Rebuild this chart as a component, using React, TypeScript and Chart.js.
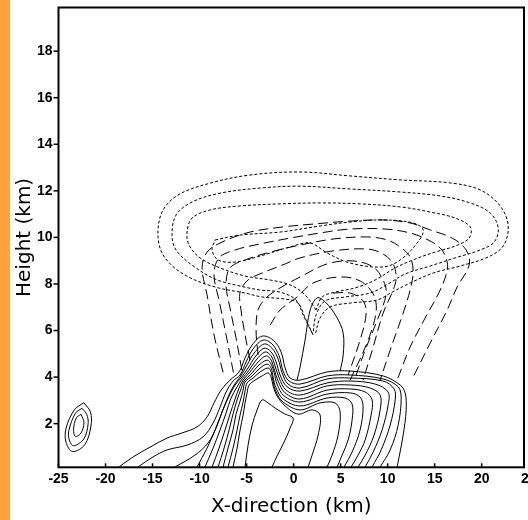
import React, { useEffect, useRef } from "react";
import { Chart, registerables } from "chart.js";

Chart.register(...registerables);

// axis ticks (km)
const X_TICKS = [-25, -20, -15, -10, -5, 0, 5, 10, 15, 20, 25];
const Y_TICKS = [2, 4, 6, 8, 10, 12, 14, 16, 18];

// ---- solid contours [x km, height km] ----
const ELL_OUTER = [[-22.3,2.9],[-21.6,2.5],[-21.55,1.9],[-22.2,1.1],[-23.5,0.8],[-24.2,1.2],[-24.2,1.8],[-23.3,2.6],[-22.3,2.9]];
const ELL_MID = [[-22.5,2.66],[-22.0,2.4],[-21.85,2.0],[-22.3,1.35],[-23.4,1.05],[-23.85,1.3],[-23.9,1.7],[-23.2,2.45],[-22.5,2.66]];
const ELL_INNER = [[-22.6,2.4],[-22.3,2.05],[-22.6,1.6],[-23.2,1.45],[-23.4,1.75],[-23.1,2.25],[-22.6,2.4]];

const S0 = [[-18.56,0.14],[-17.07,0.57],[-15.27,0.99],[-13.46,1.38],[-11.86,1.6],[-10.27,1.86],[-9.2,2.29],[-8.46,2.89],[-7.71,3.44],[-6.76,3.87],[-5.8,4.22],[-5.16,4.82],[-4.41,5.38],[-3.35,5.76],[-2.18,5.59],[-1.33,5.08],[-0.9,4.39],[-0.37,3.96],[0.69,3.87],[3.56,4.22],[6.01,4.26],[9.52,4.05],[11.33,3.66],[11.86,3.32],[11.97,2.59],[11.65,1.51],[11.01,0.14]];
const S1 = [[-16.54,0.14],[-14.95,0.57],[-13.46,0.87],[-11.33,1.08],[-9.63,1.43],[-8.56,2.03],[-7.82,2.71],[-7.18,3.36],[-6.44,3.83],[-5.69,4.09],[-5.05,4.65],[-4.31,5.21],[-3.24,5.59],[-2.29,5.42],[-1.54,4.91],[-1.12,4.26],[-0.48,3.83],[0.69,3.7],[3.56,4.05],[6.01,4.09],[9.52,3.92],[11.12,3.58],[11.44,3.1],[11.12,1.94],[10.27,0.87],[9.2,0.14]];
const S2 = [[-12.61,0.14],[-10.48,0.65],[-9.1,1.17],[-8.24,1.81],[-7.61,2.5],[-6.97,3.14],[-6.33,3.66],[-5.69,4.0],[-4.95,4.52],[-4.2,5.03],[-3.14,5.42],[-2.29,5.24],[-1.65,4.78],[-1.22,4.18],[-0.59,3.7],[0.69,3.53],[3.56,3.92],[6.01,3.96],[9.52,3.83],[10.69,3.49],[10.8,3.02],[10.27,1.94],[9.31,0.87],[8.35,0.14]];
const S3 = [[-10.27,0.14],[-9.2,0.95],[-8.35,1.73],[-7.61,2.5],[-6.86,3.19],[-6.22,3.66],[-5.59,3.96],[-4.84,4.39],[-4.1,4.86],[-3.14,5.24],[-2.39,5.08],[-1.86,4.65],[-1.44,4.09],[-0.69,3.58],[0.69,3.4],[3.56,3.75],[6.01,3.83],[8.67,3.7],[10.05,3.36],[10.05,2.8],[9.41,1.73],[8.46,0.78],[7.61,0.14]];
const S4 = [[-9.42,0.14],[-8.56,0.95],[-7.82,1.73],[-7.18,2.46],[-6.65,3.1],[-6.01,3.58],[-5.48,3.92],[-4.73,4.3],[-3.99,4.73],[-3.03,5.08],[-2.39,4.91],[-1.97,4.48],[-1.54,3.96],[-0.8,3.44],[0.69,3.23],[3.56,3.62],[6.01,3.66],[8.14,3.53],[9.2,3.23],[9.2,2.59],[8.56,1.51],[7.61,0.65],[6.86,0.14]];
const S5 = [[-8.67,0.14],[-7.93,0.95],[-7.29,1.73],[-6.76,2.41],[-6.22,3.06],[-5.8,3.53],[-5.37,3.87],[-4.63,4.22],[-3.88,4.6],[-2.93,4.91],[-2.39,4.73],[-2.07,4.35],[-1.65,3.83],[-0.9,3.32],[0.69,3.06],[3.56,3.44],[6.01,3.49],[7.61,3.36],[8.35,3.02],[8.24,2.37],[7.61,1.3],[6.86,0.65],[6.12,0.14]];
const S6 = [[-8.03,0.14],[-7.39,0.95],[-6.86,1.73],[-6.44,2.41],[-6.01,3.02],[-5.59,3.49],[-5.27,3.83],[-4.52,4.13],[-3.78,4.48],[-2.82,4.73],[-2.39,4.56],[-2.07,4.18],[-1.76,3.7],[-1.01,3.19],[0.69,2.93],[3.56,3.27],[6.01,3.32],[7.07,3.14],[7.39,2.71],[7.07,1.73],[6.22,0.78],[5.37,0.14]];
const S7 = [[-7.5,0.14],[-6.97,0.95],[-6.44,1.73],[-6.12,2.41],[-5.69,2.97],[-5.37,3.44],[-5.16,3.79],[-4.41,4.05],[-3.67,4.35],[-2.82,4.56],[-2.39,4.39],[-2.18,4.0],[-1.86,3.53],[-1.12,3.06],[0.69,2.76],[3.56,3.1],[5.48,3.1],[6.22,2.84],[6.22,2.16],[5.8,1.3],[5.16,0.65],[4.63,0.14]];
const S8 = [[-6.97,0.14],[-6.44,0.95],[-6.01,1.73],[-5.69,2.37],[-5.37,2.93],[-5.16,3.4],[-4.95,3.75],[-4.31,3.96],[-3.56,4.22],[-2.71,4.39],[-2.39,4.22],[-2.18,3.83],[-1.86,3.36],[-1.12,2.93],[0.69,2.59],[2.82,2.89],[4.41,2.89],[4.95,2.5],[4.73,1.51],[4.1,0.65],[3.56,0.14]];
const S9 = [[-6.44,0.14],[-6.01,0.95],[-5.69,1.73],[-5.37,2.37],[-5.16,2.89],[-4.95,3.32],[-4.73,3.66],[-4.1,3.87],[-3.35,4.05],[-2.71,4.18],[-2.39,4.0],[-2.18,3.62],[-1.76,3.19],[-0.9,2.76],[0.48,2.41],[1.97,2.59],[2.82,2.37],[2.61,1.51],[1.97,0.65],[1.54,0.14]];
const S10 = [[-5.16,0.14],[-4.84,1.08],[-4.41,1.94],[-3.88,2.59],[-3.35,3.02],[-2.71,2.89],[-1.97,2.67],[-0.9,2.41],[-0.05,2.24],[-0.37,1.81],[-1.01,1.21],[-1.76,0.61],[-2.29,0.14]];
const ARCH = [[0.37,3.87],[0.69,4.43],[1.22,5.59],[1.76,6.88],[2.5,7.4],[3.35,7.23],[4.52,6.62],[5.27,5.89],[5.27,4.95],[4.95,4.26]];

// ---- long-dashed contours ----
const L1 = [[-7.5,4.2],[-8.46,5.81],[-9.2,7.53],[-9.73,8.69],[-9.2,9.37],[-7.61,9.8],[-4.63,10.23],[-1.12,10.45],[2.29,10.58],[6.01,10.7],[9.52,10.75],[12.39,10.62],[14.52,10.32],[16.86,9.97],[18.35,9.46],[18.67,8.81],[17.39,7.87],[16.33,6.88],[14.52,5.46],[12.71,4.0]];
const L2 = [[-6.4,4.2],[-7.18,5.81],[-7.93,7.31],[-8.46,8.39],[-7.93,9.12],[-6.22,9.46],[-3.56,9.72],[-0.37,9.97],[2.82,10.19],[6.01,10.36],[9.73,10.36],[12.39,10.19],[14.31,9.89],[15.59,9.54],[16.22,9.12],[16.33,8.6],[15.59,7.74],[13.99,6.54],[12.39,5.29],[11.01,3.87]];
const L3 = [[-5.5,4.3],[-6.12,5.68],[-6.76,6.97],[-7.18,7.96],[-6.76,8.69],[-5.16,9.03],[-2.5,9.37],[0.69,9.67],[4.2,9.93],[7.82,10.02],[9.95,9.89],[11.33,9.59],[12.39,9.16],[12.71,8.52],[12.39,7.74],[11.65,6.75],[10.27,5.16],[9.2,3.87]];
const L4 = [[-4.63,4.73],[-5.16,5.81],[-5.59,6.88],[-5.69,7.65],[-4.84,8.17],[-3.03,8.52],[-0.9,8.86],[0.69,9.12],[4.2,9.42],[7.82,9.5],[9.52,9.29],[10.59,8.86],[10.9,8.26],[10.59,7.74],[9.52,6.75],[8.46,5.29],[7.39,3.87]];
const L5 = [[-3.78,4.95],[-3.99,6.02],[-3.78,6.88],[-2.93,7.4],[-1.44,7.83],[0.69,8.3],[3.56,8.86],[6.33,8.99],[8.46,8.73],[9.52,8.17],[9.84,7.57],[8.99,6.54],[7.61,5.16],[6.54,3.96]];
const L6 = [[-2.5,6.23],[-1.44,6.88],[0.37,7.44],[2.07,8.04],[4.95,8.3],[7.07,8.13],[8.46,7.57],[8.78,6.84],[7.93,5.59],[6.01,3.87]];
const L7 = [[4.2,7.61],[6.01,7.61],[7.39,7.27],[7.71,6.71],[7.07,5.59],[5.8,4.09]];

// ---- dotted contours (anvil) ----
const P1 = [[2.07,5.81],[1.22,6.54],[0.48,7.18],[-0.9,7.35],[-3.35,7.44],[-5.16,7.61],[-8.35,7.87],[-11.54,8.38],[-13.67,9.12],[-14.41,9.97],[-13.99,11.09],[-12.29,11.82],[-8.88,12.33],[-4.63,12.68],[0.69,12.81],[6.01,12.64],[11.33,12.47],[16.65,12.34],[19.84,12.04],[21.97,11.35],[22.82,10.49],[22.29,9.63],[20.69,9.16],[17.71,8.77],[14.84,8.47],[12.39,8.04],[10.48,7.65],[8.88,7.31],[6.01,7.18],[3.88,7.01],[2.82,6.54],[2.29,5.81]];
const P2 = [[1.97,5.89],[1.01,6.67],[0.27,7.31],[-1.44,7.65],[-3.56,7.74],[-5.69,7.91],[-8.35,8.21],[-10.8,8.81],[-12.5,9.46],[-12.93,10.1],[-12.5,10.96],[-10.8,11.52],[-7.82,11.9],[-3.56,12.12],[0.69,12.2],[6.01,12.08],[11.33,11.95],[15.59,11.78],[18.78,11.48],[20.9,11.05],[21.76,10.41],[21.33,9.8],[19.84,9.46],[17.18,9.12],[14.52,8.77],[11.86,8.43],[10.05,8.0],[8.14,7.61],[5.48,7.44],[3.35,7.27],[2.39,6.67],[2.07,5.89]];
const P3 = [[2.39,6.88],[1.22,7.53],[-0.37,7.96],[-2.5,8.17],[-5.16,8.34],[-7.82,8.69],[-9.95,9.12],[-11.12,9.67],[-11.33,10.23],[-10.8,10.83],[-8.88,11.18],[-5.69,11.35],[-1.44,11.44],[2.82,11.48],[7.07,11.44],[11.33,11.31],[14.52,11.09],[17.18,10.83],[18.78,10.45],[18.67,9.97],[17.18,9.63],[15.05,9.37],[12.93,9.07],[10.8,8.69],[8.67,8.17],[6.54,7.83],[4.41,7.65],[3.03,7.44],[2.39,6.88]];
const P4 = [[-8.35,9.89],[-5.69,10.1],[-1.44,10.23],[2.82,10.49],[6.01,10.66],[9.52,10.75],[12.71,10.62],[13.78,10.32],[13.14,9.76],[11.33,9.03],[9.52,8.73],[6.01,8.9],[3.56,9.33],[1.76,9.76],[-0.37,9.59],[-3.56,9.2],[-6.22,8.94],[-8.03,9.03],[-8.67,9.46],[-8.35,9.89]];

const SOLID = [ELL_OUTER, ELL_MID, ELL_INNER, S0, S1, S2, S3, S4, S5, S6, S7, S8, S9, S10, ARCH];
const LONG_DASH = [L1, L2, L3, L4, L5, L6, L7];
const DOTTED = [P1, P2, P3, P4];

const mk = (pts: number[][], dash: number[]) => ({
  data: pts.map(([x, y]) => ({ x, y })),
  showLine: true,
  borderColor: "#000",
  borderWidth: 1,
  borderDash: dash,
  pointRadius: 0,
  pointHoverRadius: 0,
  tension: 0.35,
  fill: false,
});

const framePlugin = {
  id: "frame",
  afterDraw(chart: any) {
    const { ctx, chartArea: a, scales } = chart;
    ctx.save();
    ctx.strokeStyle = "#000";
    ctx.lineWidth = 2;
    ctx.strokeRect(a.left, a.top, a.right - a.left, a.bottom - a.top);
    ctx.lineWidth = 1.5;
    for (const v of Y_TICKS) {
      const y = scales.y.getPixelForValue(v);
      ctx.beginPath();
      ctx.moveTo(a.left - 5, y);
      ctx.lineTo(a.left, y);
      ctx.stroke();
    }
    for (const v of X_TICKS) {
      const x = scales.x.getPixelForValue(v);
      if (x > a.right) continue;
      ctx.beginPath();
      ctx.moveTo(x, a.bottom);
      ctx.lineTo(x, a.bottom - 4);
      ctx.stroke();
    }
    ctx.restore();
  },
};

export default function App() {
  const ref = useRef<HTMLCanvasElement>(null);
  useEffect(() => {
    const canvas = ref.current!;
    const tickFont = { family: "'Liberation Sans Narrow', 'Liberation Sans', Arial, sans-serif", size: 14, weight: "bold" as const };
    const titleFont = { family: "'DejaVu Sans', sans-serif", size: 20, weight: "normal" as const };
    const datasets = [
      ...SOLID.map((p) => mk(p, [])),
      ...LONG_DASH.map((p) => mk(p, [10, 5])),
      ...DOTTED.map((p) => mk(p, [3, 2])),
    ];
    const chart = new Chart(canvas, {
      type: "scatter",
      data: { datasets },
      options: {
        animation: false,
        responsive: false,
        maintainAspectRatio: false,
        events: [],
        layout: { padding: { top: 7.5, right: 4, bottom: 0, left: 0 } },
        plugins: { legend: { display: false }, tooltip: { enabled: false } },
        scales: {
          x: {
            type: "linear",
            min: -25,
            max: 24.5,
            afterBuildTicks: (s: any) => {
              s.ticks = X_TICKS.map((value) => ({ value }));
            },
            afterFit: (s: any) => {
              s.height = 52.7;
              s.paddingLeft = 0;
              s.paddingRight = 0;
            },
            grid: { display: false, drawTicks: false },
            border: { display: false },
            ticks: { font: tickFont, color: "#000", padding: 3, maxRotation: 0, autoSkip: false },
            title: { display: true, text: "X-direction (km)", font: titleFont, color: "#000", padding: { top: 0, bottom: 1 } },
          },
          y: {
            type: "linear",
            min: 0.125,
            max: 19.875,
            afterBuildTicks: (s: any) => {
              s.ticks = Y_TICKS.map((value) => ({ value }));
            },
            afterFit: (s: any) => {
              s.width = 58.5;
              s.paddingTop = 0;
              s.paddingBottom = 0;
            },
            grid: { display: false, drawTicks: false },
            border: { display: false },
            ticks: { font: tickFont, color: "#000", padding: 6, autoSkip: false },
            title: { display: true, text: "Height (km)", font: titleFont, color: "#000", padding: { top: 13, bottom: 0 } },
          },
        },
      },
      plugins: [framePlugin],
    });
    return () => chart.destroy();
  }, []);
  return (
    <div style={{ position: "absolute", left: 0, top: 0, width: 528, height: 520, background: "#fff" }}>
      <canvas ref={ref} width={528} height={520} style={{ width: 528, height: 520, display: "block" }} />
      <div style={{ position: "absolute", left: 0, top: 0, width: 10, height: 520, background: "#FFA23C" }} />
    </div>
  );
}
